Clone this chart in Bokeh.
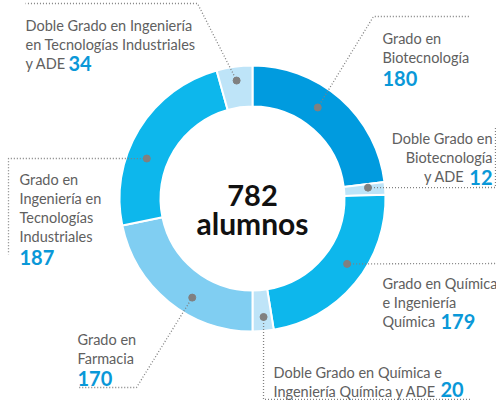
import numpy as np
from bokeh.plotting import figure
from bokeh.models import Range1d, ColumnDataSource
from bokeh.core.properties import value
from bokeh.embed import file_html
from bokeh.resources import INLINE

# ---------------- data ----------------
categories = [
    "Grado en Biotecnología",
    "Doble Grado en Biotecnología y ADE",
    "Grado en Química e Ingeniería Química",
    "Doble Grado en Química e Ingeniería Química y ADE",
    "Grado en Farmacia",
    "Grado en Ingeniería en Tecnologías Industriales",
    "Doble Grado en Ingeniería en Tecnologías Industriales y ADE",
]
alumnos = [180, 12, 179, 20, 170, 187, 34]
total_label = "782"
total_word = "alumnos"

# label lines (gray part) for each category
label_lines = [
    ["Grado en", "Biotecnología"],
    ["Doble Grado en", "Biotecnología", "y ADE"],
    ["Grado en Química", "e Ingeniería", "Química"],
    ["Doble Grado en Química e", "Ingeniería Química y ADE"],
    ["Grado en", "Farmacia"],
    ["Grado en", "Ingeniería en", "Tecnologías", "Industriales"],
    ["Doble Grado en Ingeniería", "en Tecnologías Industriales", "y ADE"],
]

# ---------------- style / layout ----------------
colors = ["#009bdf", "#bee4f8", "#0db7ec", "#bee4f8", "#80cef2", "#0db7ec", "#bee4f8"]
num_color = "#0a98d8"
gray = "#606060"
lead_color = "#808080"
FONT = "Lato"

IMG_W, IMG_H = 496, 400
CX, CY = 252, 198
R_IN, R_OUT = 92, 133

# where each leader dot sits in its segment (fraction of segment, radius)
dot_frac = [0.43, 0.32, 0.44, 0.42, 0.40, 0.377, 0.51]
dot_r = [112, 116, 115, 119, 116, 113, 119]

# label anchors: x per line (list) or single x, first baseline, align,
# number position (x, baseline, align)
label_pos = [
    (382, 38, "left", (382, 78, "left")),
    ([492, 492, 464], 138, "right", (492, 177, "right")),
    (382, 283, "left", (440, 321, "left")),
    (273, 372, "left", (440, 389, "left")),
    (77, 339, "left", (77, 378, "left")),
    (19, 179, "left", (19, 257, "left")),
    (25, 25, "left", (68, 63, "left")),
]
line_gap = 19

# leader paths (after the dot), image coords
leader_paths = [
    [(373, 16), (470, 16)],
    [(495, 187), (495, 126)],
    [(496, 263)],
    [(263, 399), (470, 399)],
    [(136, 387), (78, 387)],
    [(8, 158), (8, 254)],
    [(197, 3), (25, 3)],
]

W, H = IMG_W, IMG_H
p = figure(width=W, height=H, output_backend="svg", toolbar_location=None,
           x_range=Range1d(0, IMG_W), y_range=Range1d(-IMG_H, 0),
           min_border=0)
p.axis.visible = False
p.grid.visible = False
p.outline_line_color = None
p.background_fill_color = "white"
p.border_fill_color = "white"

vals = np.array(alumnos, dtype=float)
cum = np.concatenate([[0], np.cumsum(vals)])
theta0 = cum[:-1] / cum[-1] * 2 * np.pi  # clockwise from top
theta1 = cum[1:] / cum[-1] * 2 * np.pi

src = ColumnDataSource(dict(
    cat=categories,
    start=np.pi / 2 - theta1,
    end=np.pi / 2 - theta0,
    color=colors,
))
p.annular_wedge(x=CX, y=-CY, inner_radius=R_IN, outer_radius=R_OUT,
                start_angle="start", end_angle="end", fill_color="color",
                line_color="white", line_width=2, source=src)

# leader lines and dots
for i in range(len(alumnos)):
    th = theta0[i] + dot_frac[i] * (theta1[i] - theta0[i])
    dx = CX + dot_r[i] * np.sin(th)
    dy = CY - dot_r[i] * np.cos(th)
    pts = [(dx, dy)] + leader_paths[i]
    p.line([q[0] for q in pts], [-q[1] for q in pts], line_color=lead_color,
           line_width=1.3, line_dash="1 2")
    p.scatter([dx], [-dy], size=7, color=lead_color)

# labels
tx, ty, tt, ta = [], [], [], []
nx, ny, nt, na = [], [], [], []
for i, lines in enumerate(label_lines):
    x0, y0, al, (xn, yn, aln) = label_pos[i]
    for k, ln in enumerate(lines):
        tx.append(x0[k] if isinstance(x0, list) else x0)
        ty.append(-(y0 + k * line_gap))
        tt.append(ln)
        ta.append(al)
    nx.append(xn)
    ny.append(-yn)
    nt.append(str(alumnos[i]))
    na.append(aln)

p.text(x=tx, y=ty, text=tt, text_align=ta, text_baseline="alphabetic",
       text_font=value(FONT), text_font_size="14.5px", text_color=gray)
p.text(x=nx, y=ny, text=nt, text_align=na, text_baseline="alphabetic",
       text_font=value(FONT), text_font_size="20px", text_font_style="bold",
       text_color=num_color)

# center
p.text(x=[CX], y=[-195], text=[total_label],
       text_align="center", text_baseline="alphabetic",
       text_font=value(FONT), text_font_size="29px", text_font_style="bold",
       text_color="#111111")
p.text(x=[CX], y=[-222], text=[total_word],
       text_align="center", text_baseline="alphabetic",
       text_font=value(FONT), text_font_size="30px", text_font_style="bold",
       text_color="#111111")

open("out.html", "w").write(file_html(p, INLINE))
